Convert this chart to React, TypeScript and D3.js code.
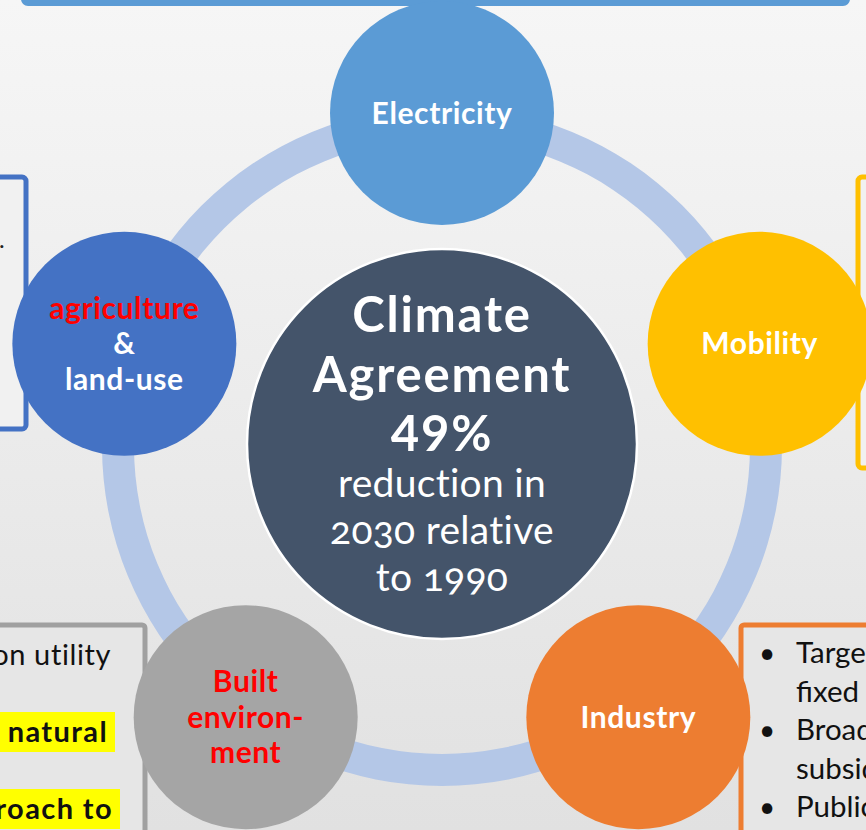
import React from "react";
import * as d3 from "d3";

const W = 866;
const H = 830;

const sectors = ["Electricity", "Mobility", "Industry", "Built environment", "agriculture & land-use"];
const sectorColors = ["#5B9BD5", "#FFC000", "#ED7D31", "#A5A5A5", "#4472C4"];
const sectorLines: string[][] = [
  ["Electricity"],
  ["Mobility"],
  ["Industry"],
  ["Built", "environ-", "ment"],
  ["agriculture", "&", "land-use"],
];
const sectorLineRed: boolean[][] = [
  [false],
  [false],
  [false],
  [true, true, true],
  [true, false, false],
];

const centerTitle = ["Climate", "Agreement", "49%"];
const centerSub = ["reduction in", "2030 relative", "to 1990"];

const leftBottomLines = ["based on utility", "a natural", "approach to"];
const leftBottomHighlight = [false, true, true];
const rightBottomLines = ["Targets for", "fixed costs", "Broadening", "subsidies", "Public"];
const rightBottomBullet = [true, false, true, false, true];

const FONT = "Lato, 'Open Sans', sans-serif";

export default function App() {
  const cx = 442;
  const cy = 447;
  const orbit = 334;
  const angle = d3.scaleLinear().domain([0, sectors.length]).range([-Math.PI / 2, (3 * Math.PI) / 2]);
  const pos = sectors.map((_, i) => [cx + orbit * Math.cos(angle(i)), cy + orbit * Math.sin(angle(i))]);
  const satR = 112;
  const ringPath = d3.arc()({ innerRadius: 308, outerRadius: 340, startAngle: 0, endAngle: 2 * Math.PI }) as string;

  const lineY = d3.scaleLinear().domain([0, 1]).range([0, 35.5]);

  return (
    <svg width={W} height={H} style={{ position: "absolute", left: 0, top: 0 }} fontFamily={FONT}>
      <defs>
        <linearGradient id="bg" x1="0" y1="0" x2="0" y2="1">
          <stop offset="0" stopColor="#F6F6F6" />
          <stop offset="1" stopColor="#E1E1E1" />
        </linearGradient>
      </defs>
      <rect x={0} y={0} width={W} height={H} fill="url(#bg)" />

      {/* surrounding boxes */}
      <rect x={24} y={-60} width={823} height={63} rx={4} fill="#F5F5F5" stroke="#5B9BD5" strokeWidth={6} />
      <rect x={-40} y={177} width={66} height={252} rx={4} fill="#F1F1F1" stroke="#4472C4" strokeWidth={5} />
      <text x={-1} y={248} fontSize={24} fill="#222">.</text>
      <rect x={858} y={177} width={60} height={291} rx={4} fill="#F1F1F1" stroke="#FFC000" strokeWidth={5} />
      <rect x={-40} y={625} width={185} height={260} rx={3} fill="#E6E6E6" stroke="#A0A0A0" strokeWidth={5} />
      <rect x={741} y={625} width={200} height={260} rx={3} fill="#E6E6E6" stroke="#ED7D31" strokeWidth={5} />

      {/* left-bottom box text */}
      {leftBottomLines.map((t, i) => {
        const y = 665 + i * 77;
        return (
          <g key={t}>
            {leftBottomHighlight[i] && (
              <rect x={0} y={y - 30} width={i === 1 ? 115 : 120} height={40} fill="#FFFF00" />
            )}
            <text x={i === 0 ? 111 : i === 1 ? 108 : 113} y={y} textAnchor="end" fontSize={29}
              letterSpacing={leftBottomHighlight[i] ? 1.4 : 0.6}
              fontWeight={leftBottomHighlight[i] ? 700 : 400} fill="#111">{t}</text>
          </g>
        );
      })}

      {/* right-bottom box text */}
      {rightBottomLines.map((t, i) => (
        <g key={t}>
          {rightBottomBullet[i] && <text x={759} y={663 + i * 38.5} fontSize={28} fill="#111">•</text>}
          <text x={796} y={663 + i * 38.5} fontSize={29.5} fill="#111">{t}</text>
        </g>
      ))}

      {/* ring */}
      <path d={ringPath} transform={`translate(${cx},446)`} fill="#B4C7E7" />

      {/* center */}
      <circle cx={442} cy={444} r={195} fill="#44546A" stroke="#FFFFFF" strokeWidth={2.5} />
      {centerTitle.map((t, i) => (
        <text key={t} x={442} y={332 + i * 59.5} textAnchor="middle" fontSize={49} fontWeight={700} fill="#FFF"
          letterSpacing={1.8}>{t}</text>
      ))}
      {centerSub.map((t, i) => (
        <text key={t} x={442} y={497 + i * 47} textAnchor="middle" fontSize={39} fill="#FFF"
          letterSpacing={0.3}
          style={{ fontVariantNumeric: "oldstyle-nums", fontFeatureSettings: "'onum' 1" }}>{t}</text>
      ))}

      {/* satellites */}
      {sectors.map((s, i) => {
        const [x, y] = pos[i];
        const lines = sectorLines[i];
        const off = ((lines.length - 1) / 2);
        return (
          <g key={s}>
            <circle cx={x} cy={y} r={satR} fill={sectorColors[i]} />
            {lines.map((l, j) => (
              <text key={j} x={x} y={y + lineY(j - off) + 10.5} textAnchor="middle" fontSize={30} fontWeight={700}
                letterSpacing={0.6}
                fill={sectorLineRed[i][j] ? "#FF0000" : "#FFFFFF"}>{l}</text>
            ))}
          </g>
        );
      })}
    </svg>
  );
}
